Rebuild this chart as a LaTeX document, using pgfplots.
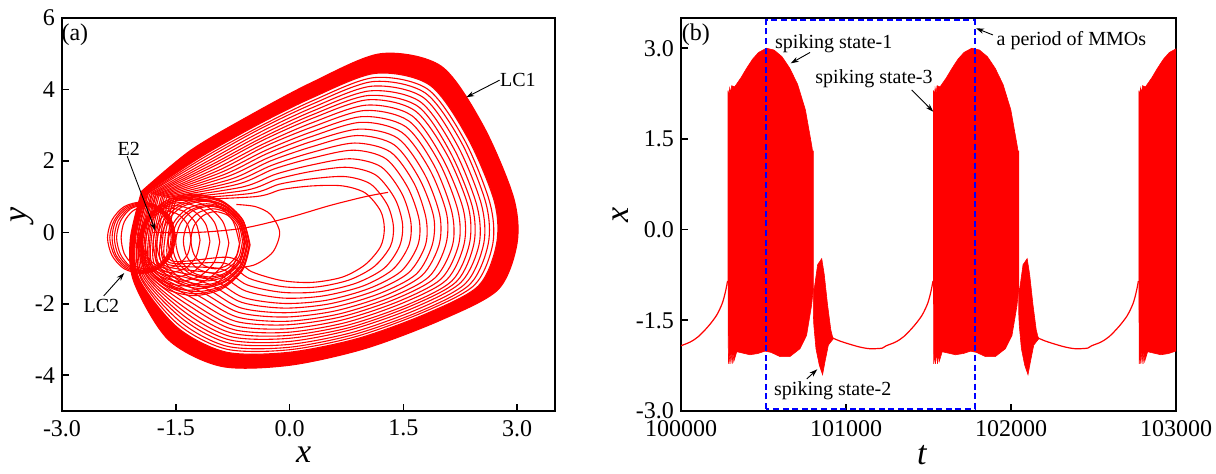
\documentclass[border=0pt]{standalone}
\usepackage{fontspec}
\setmainfont{Liberation Serif}
\usepackage{pgfplots}
\pgfplotsset{compat=1.18}
\usetikzlibrary{arrows.meta}
\tikzset{
 ann/.style={font=\fontsize{10}{12}\selectfont},
 arr/.style={-{Stealth[length=4pt,width=2.6pt]}, line width=0.45pt, black},
}
\begin{document}
\begin{tikzpicture}[font=\fontsize{12}{14}\selectfont]
\pgfplotsset{
 common/.style={
  scale only axis,
  tick align=inside,
  tick pos=left,
  major tick length=3.5pt,
  axis line style={line width=0.8pt},
  every tick/.style={black, line width=0.8pt},
  ticklabel style={font=\rmfamily\fontsize{12}{14}\selectfont},
  /pgf/number format/assume math mode=true,
  label style={font=\rmfamily\fontsize{17}{20}\selectfont},
 },
 lp/.style={red, line width=0.55pt, smooth},
}

% ---------------- (a) phase portrait ----------------
\begin{axis}[common, at={(0pt,0pt)}, anchor=south west, width=246.5pt, height=196.5pt,
 xmin=-3, xmax=3.5, ymin=-5, ymax=6,
 xtick={-3,-1.5,0,1.5,3}, ytick={-4,-2,0,2,4,6},
 xticklabel style={yshift=-1pt, /pgf/number format/.cd, fixed, fixed zerofill, precision=1},
 yticklabel style={/pgf/number format/.cd, fixed, precision=0},
 xlabel={\textit{x}}, ylabel={\textit{y}},
 xlabel style={at={(axis description cs:0.49,-0.112)}, anchor=center},
 ylabel style={at={(axis description cs:-0.081,0.5)}, anchor=center},
]
% dense outer band of LC1
\addplot[fill=red, draw=red, line width=0.55pt, smooth] coordinates {(-1.95,1.15) (-1.3,2.3) (-0.5,3.3) (0.3,4.2) (1.2,5.0) (2.0,4.65) (2.55,3.0) (2.95,1.0) (3.0,-0.3) (2.75,-1.6) (2.0,-2.45) (1.0,-3.25) (0.0,-3.72) (-0.9,-3.75) (-1.6,-3.0) (-2.05,-1.4) (-2.1,-0.2) (-1.95,1.15)};
\addplot[fill=white, draw=red, line width=0.55pt, smooth] coordinates {(-1.88,1.11) (-1.17,2.11) (-0.44,2.99) (0.30,3.77) (1.13,4.45) (1.85,4.12) (2.35,2.64) (2.70,0.87) (2.73,-0.32) (2.49,-1.50) (1.81,-2.27) (0.90,-2.97) (-0.02,-3.36) (-0.84,-3.35) (-1.48,-2.66) (-1.98,-1.31) (-2.03,-0.19) (-1.88,1.11)};
% LC1 loops
\addplot[lp] coordinates {(-1.87,1.10) (-1.15,2.07) (-0.43,2.92) (0.30,3.68) (1.11,4.33) (1.82,4.01) (2.31,2.57) (2.64,0.84) (2.68,-0.32) (2.44,-1.47) (1.77,-2.23) (0.87,-2.92) (-0.02,-3.29) (-0.83,-3.27) (-1.46,-2.59) (-1.96,-1.29) (-2.01,-0.18) (-1.87,1.10)};
\addplot[lp] coordinates {(-1.86,1.10) (-1.12,2.03) (-0.42,2.86) (0.30,3.59) (1.10,4.22) (1.79,3.90) (2.27,2.50) (2.59,0.81) (2.62,-0.32) (2.38,-1.45) (1.73,-2.20) (0.85,-2.86) (-0.02,-3.22) (-0.82,-3.19) (-1.43,-2.52) (-1.95,-1.27) (-2.00,-0.18) (-1.86,1.10)};
\addplot[lp] coordinates {(-1.84,1.09) (-1.09,1.98) (-0.40,2.79) (0.30,3.49) (1.08,4.09) (1.76,3.78) (2.22,2.41) (2.53,0.78) (2.56,-0.32) (2.32,-1.43) (1.68,-2.16) (0.83,-2.80) (-0.02,-3.14) (-0.80,-3.10) (-1.40,-2.44) (-1.93,-1.25) (-1.98,-0.18) (-1.84,1.09)};
\addplot[lp] coordinates {(-1.82,1.08) (-1.06,1.94) (-0.39,2.71) (0.30,3.39) (1.06,3.96) (1.72,3.66) (2.17,2.33) (2.47,0.75) (2.50,-0.33) (2.26,-1.40) (1.64,-2.11) (0.80,-2.73) (-0.03,-3.06) (-0.79,-3.01) (-1.38,-2.36) (-1.91,-1.23) (-1.96,-0.17) (-1.82,1.08)};
\addplot[lp] coordinates {(-1.81,1.07) (-1.03,1.89) (-0.37,2.64) (0.30,3.29) (1.04,3.83) (1.69,3.53) (2.12,2.24) (2.41,0.72) (2.43,-0.33) (2.20,-1.38) (1.59,-2.07) (0.78,-2.67) (-0.03,-2.97) (-0.77,-2.92) (-1.35,-2.28) (-1.89,-1.21) (-1.94,-0.17) (-1.81,1.07)};
\addplot[lp] coordinates {(-1.79,1.06) (-1.00,1.85) (-0.36,2.57) (0.30,3.19) (1.03,3.71) (1.65,3.41) (2.08,2.16) (2.36,0.69) (2.37,-0.34) (2.14,-1.36) (1.55,-2.03) (0.76,-2.60) (-0.04,-2.89) (-0.76,-2.82) (-1.32,-2.20) (-1.88,-1.19) (-1.93,-0.17) (-1.79,1.06)};
\addplot[lp] coordinates {(-1.77,1.05) (-0.97,1.79) (-0.34,2.48) (0.30,3.07) (1.01,3.56) (1.61,3.27) (2.02,2.06) (2.29,0.65) (2.30,-0.34) (2.07,-1.33) (1.49,-1.98) (0.73,-2.53) (-0.04,-2.80) (-0.74,-2.72) (-1.29,-2.10) (-1.86,-1.17) (-1.91,-0.16) (-1.77,1.05)};
\addplot[lp] coordinates {(-1.76,1.04) (-0.93,1.74) (-0.33,2.40) (0.30,2.95) (0.99,3.41) (1.57,3.12) (1.97,1.97) (2.22,0.61) (2.23,-0.34) (2.00,-1.30) (1.44,-1.93) (0.70,-2.45) (-0.04,-2.70) (-0.73,-2.61) (-1.26,-2.01) (-1.84,-1.14) (-1.89,-0.16) (-1.76,1.04)};
\addplot[lp] coordinates {(-1.74,1.03) (-0.90,1.68) (-0.31,2.30) (0.30,2.82) (0.96,3.24) (1.53,2.96) (1.91,1.86) (2.14,0.57) (2.15,-0.35) (1.92,-1.27) (1.38,-1.88) (0.67,-2.37) (-0.05,-2.59) (-0.71,-2.49) (-1.22,-1.91) (-1.81,-1.12) (-1.86,-0.15) (-1.74,1.03)};
\addplot[lp] coordinates {(-1.72,1.02) (-0.86,1.62) (-0.29,2.21) (0.30,2.69) (0.94,3.08) (1.48,2.80) (1.85,1.75) (2.07,0.53) (2.06,-0.35) (1.84,-1.24) (1.32,-1.83) (0.64,-2.29) (-0.05,-2.49) (-0.69,-2.37) (-1.18,-1.80) (-1.79,-1.09) (-1.84,-0.15) (-1.72,1.02)};
\addplot[lp] coordinates {(-1.69,1.01) (-0.82,1.56) (-0.27,2.10) (0.30,2.55) (0.92,2.89) (1.43,2.63) (1.78,1.63) (1.98,0.49) (1.97,-0.36) (1.75,-1.20) (1.26,-1.77) (0.60,-2.20) (-0.06,-2.37) (-0.67,-2.24) (-1.14,-1.69) (-1.77,-1.06) (-1.82,-0.14) (-1.69,1.01)};
\addplot[lp] coordinates {(-1.67,1.00) (-0.77,1.49) (-0.25,2.00) (0.30,2.40) (0.89,2.71) (1.38,2.45) (1.71,1.51) (1.90,0.44) (1.88,-0.36) (1.67,-1.17) (1.19,-1.71) (0.57,-2.10) (-0.06,-2.25) (-0.65,-2.11) (-1.10,-1.57) (-1.74,-1.03) (-1.79,-0.14) (-1.67,1.00)};
\addplot[lp] coordinates {(-1.65,0.98) (-0.73,1.42) (-0.23,1.88) (0.30,2.24) (0.86,2.50) (1.33,2.25) (1.64,1.38) (1.80,0.39) (1.79,-0.37) (1.57,-1.13) (1.12,-1.64) (0.53,-2.00) (-0.07,-2.12) (-0.63,-1.96) (-1.06,-1.45) (-1.71,-1.00) (-1.76,-0.13) (-1.65,0.98)};
\addplot[lp] coordinates {(-1.62,0.97) (-0.68,1.35) (-0.21,1.77) (0.30,2.08) (0.84,2.30) (1.27,2.06) (1.56,1.25) (1.71,0.34) (1.69,-0.37) (1.47,-1.09) (1.05,-1.57) (0.49,-1.90) (-0.07,-1.99) (-0.61,-1.82) (-1.02,-1.32) (-1.69,-0.96) (-1.74,-0.13) (-1.62,0.97)};
\addplot[lp] coordinates {(-1.59,0.95) (-0.62,1.27) (-0.18,1.63) (0.30,1.89) (0.80,2.06) (1.21,1.83) (1.48,1.09) (1.60,0.28) (1.57,-0.38) (1.36,-1.04) (0.97,-1.50) (0.44,-1.78) (-0.08,-1.84) (-0.58,-1.64) (-0.96,-1.17) (-1.65,-0.92) (-1.70,-0.12) (-1.59,0.95)};
\addplot[lp] coordinates {(-1.56,0.94) (-0.57,1.18) (-0.16,1.49) (0.30,1.71) (0.77,1.82) (1.14,1.60) (1.39,0.94) (1.49,0.23) (1.45,-0.39) (1.25,-1.00) (0.88,-1.42) (0.40,-1.66) (-0.09,-1.68) (-0.56,-1.47) (-0.91,-1.02) (-1.62,-0.88) (-1.67,-0.11) (-1.56,0.94)};
\addplot[lp] coordinates {(-1.53,0.92) (-0.51,1.09) (-0.13,1.35) (0.30,1.50) (0.74,1.56) (1.07,1.35) (1.29,0.77) (1.37,0.16) (1.33,-0.39) (1.12,-0.95) (0.79,-1.33) (0.35,-1.53) (-0.09,-1.52) (-0.53,-1.29) (-0.86,-0.86) (-1.59,-0.84) (-1.64,-0.11) (-1.53,0.92)};
\addplot[lp] coordinates {(-1.5,0.9) (-0.45,1.0) (-0.1,1.2) (0.3,1.3) (0.7,1.3) (1.0,1.1) (1.2,0.6) (1.25,0.1) (1.2,-0.4) (1.0,-0.9) (0.7,-1.25) (0.3,-1.4) (-0.1,-1.35) (-0.5,-1.1) (-0.8,-0.7) (-1.55,-0.8) (-1.6,-0.1) (-1.5,0.9)};
% single inner loop and trajectory leaving E2
\addplot[lp] coordinates {(-0.7,0.78) (-0.45,0.72) (-0.25,0.5) (-0.13,0.0) (-0.22,-0.55) (-0.45,-0.9) (-0.7,-1.0)};
\addplot[lp] coordinates {(-1.8,0.0) (-1.2,0.0) (-0.6,0.12) (0.0,0.42) (0.53,0.75) (1.0,1.0) (1.3,1.12)};
% LC2 mesh
\addplot[lp] coordinates {(-0.52,-0.35) (-0.62,0.36) (-0.89,0.88) (-1.26,1.07) (-1.63,0.88) (-1.90,0.36) (-2.0,-0.35) (-1.90,-1.06) (-1.63,-1.58) (-1.26,-1.77) (-0.89,-1.58) (-0.62,-1.06) (-0.52,-0.35)};
\addplot[lp] coordinates {(-0.53,-0.34) (-0.62,0.35) (-0.88,0.85) (-1.24,1.04) (-1.59,0.85) (-1.85,0.35) (-1.95,-0.34) (-1.85,-1.03) (-1.59,-1.53) (-1.24,-1.72) (-0.88,-1.53) (-0.62,-1.03) (-0.53,-0.34)};
\addplot[lp] coordinates {(-0.53,-0.33) (-0.62,0.34) (-0.87,0.82) (-1.22,1.00) (-1.56,0.82) (-1.81,0.34) (-1.90,-0.33) (-1.81,-1.00) (-1.56,-1.48) (-1.22,-1.66) (-0.87,-1.48) (-0.62,-1.00) (-0.53,-0.33)};
\addplot[lp] coordinates {(-0.55,-0.32) (-0.63,0.31) (-0.86,0.76) (-1.18,0.93) (-1.49,0.76) (-1.72,0.31) (-1.80,-0.32) (-1.72,-0.95) (-1.49,-1.40) (-1.18,-1.57) (-0.86,-1.40) (-0.63,-0.95) (-0.55,-0.32)};
\addplot[lp] coordinates {(-0.56,-0.31) (-0.64,0.30) (-0.85,0.74) (-1.15,0.90) (-1.45,0.74) (-1.67,0.30) (-1.75,-0.31) (-1.67,-0.92) (-1.45,-1.36) (-1.15,-1.52) (-0.85,-1.36) (-0.64,-0.92) (-0.56,-0.31)};
\addplot[lp] coordinates {(-0.56,-0.30) (-0.64,0.29) (-0.85,0.71) (-1.13,0.87) (-1.42,0.71) (-1.62,0.29) (-1.70,-0.30) (-1.62,-0.89) (-1.42,-1.31) (-1.13,-1.47) (-0.85,-1.31) (-0.64,-0.89) (-0.56,-0.30)};
\addplot[lp] coordinates {(-0.58,-0.28) (-0.65,0.26) (-0.84,0.66) (-1.09,0.80) (-1.35,0.66) (-1.53,0.26) (-1.60,-0.28) (-1.53,-0.82) (-1.35,-1.22) (-1.09,-1.36) (-0.84,-1.22) (-0.65,-0.82) (-0.58,-0.28)};
\addplot[lp] coordinates {(-0.59,-0.27) (-0.65,0.25) (-0.83,0.62) (-1.07,0.76) (-1.31,0.62) (-1.49,0.25) (-1.55,-0.27) (-1.49,-0.79) (-1.31,-1.16) (-1.07,-1.30) (-0.83,-1.16) (-0.65,-0.79) (-0.59,-0.27)};
\addplot[lp] coordinates {(-0.60,-0.26) (-0.66,0.24) (-0.83,0.60) (-1.05,0.73) (-1.28,0.60) (-1.44,0.24) (-1.50,-0.26) (-1.44,-0.76) (-1.28,-1.12) (-1.05,-1.25) (-0.83,-1.12) (-0.66,-0.76) (-0.60,-0.26)};
\addplot[lp] coordinates {(-0.62,-0.24) (-0.67,0.21) (-0.82,0.54) (-1.01,0.66) (-1.21,0.54) (-1.35,0.21) (-1.40,-0.24) (-1.35,-0.69) (-1.21,-1.02) (-1.01,-1.14) (-0.82,-1.02) (-0.67,-0.69) (-0.62,-0.24)};
\addplot[lp] coordinates {(-0.65,-0.22) (-0.69,0.18) (-0.81,0.47) (-0.98,0.58) (-1.14,0.47) (-1.26,0.18) (-1.30,-0.22) (-1.26,-0.62) (-1.14,-0.91) (-0.98,-1.02) (-0.81,-0.91) (-0.69,-0.62) (-0.65,-0.22)};
\addplot[lp] coordinates {(-0.66,-0.32) (-0.75,0.33) (-0.99,0.81) (-1.33,0.98) (-1.66,0.81) (-1.90,0.33) (-1.99,-0.32) (-1.90,-0.97) (-1.66,-1.45) (-1.33,-1.62) (-0.99,-1.45) (-0.75,-0.97) (-0.66,-0.32)};
\addplot[lp] coordinates {(-0.80,-0.30) (-0.88,0.30) (-1.10,0.74) (-1.39,0.90) (-1.69,0.74) (-1.90,0.30) (-1.98,-0.30) (-1.90,-0.90) (-1.69,-1.34) (-1.39,-1.50) (-1.10,-1.34) (-0.88,-0.90) (-0.80,-0.30)};
\addplot[lp] coordinates {(-0.92,-0.27) (-0.99,0.28) (-1.18,0.68) (-1.45,0.83) (-1.71,0.68) (-1.90,0.28) (-1.97,-0.27) (-1.90,-0.82) (-1.71,-1.22) (-1.45,-1.37) (-1.18,-1.22) (-0.99,-0.82) (-0.92,-0.27)};
\addplot[lp] coordinates {(-1.05,-0.25) (-1.11,0.25) (-1.28,0.62) (-1.51,0.75) (-1.73,0.62) (-1.90,0.25) (-1.96,-0.25) (-1.90,-0.75) (-1.73,-1.12) (-1.51,-1.25) (-1.28,-1.12) (-1.11,-0.75) (-1.05,-0.25)};
\addplot[lp] coordinates {(-1.18,-0.22) (-1.23,0.23) (-1.37,0.56) (-1.57,0.68) (-1.76,0.56) (-1.90,0.23) (-1.95,-0.22) (-1.90,-0.67) (-1.76,-1.00) (-1.57,-1.12) (-1.37,-1.00) (-1.23,-0.67) (-1.18,-0.22)};
\addplot[lp] coordinates {(-1.30,-0.20) (-1.34,0.20) (-1.46,0.49) (-1.62,0.60) (-1.78,0.49) (-1.90,0.20) (-1.94,-0.20) (-1.90,-0.60) (-1.78,-0.89) (-1.62,-1.00) (-1.46,-0.89) (-1.34,-0.60) (-1.30,-0.20)};
% LC2 left lobe
\addplot[lp] coordinates {(-1.50,-0.15) (-1.56,0.35) (-1.73,0.72) (-1.95,0.85) (-2.18,0.72) (-2.34,0.35) (-2.40,-0.15) (-2.34,-0.65) (-2.18,-1.02) (-1.95,-1.15) (-1.73,-1.02) (-1.56,-0.65) (-1.50,-0.15)};
\addplot[lp] coordinates {(-1.51,-0.15) (-1.57,0.34) (-1.73,0.70) (-1.94,0.83) (-2.16,0.70) (-2.31,0.34) (-2.37,-0.15) (-2.31,-0.64) (-2.16,-1.00) (-1.94,-1.13) (-1.73,-1.00) (-1.57,-0.64) (-1.51,-0.15)};
\addplot[lp] coordinates {(-1.52,-0.15) (-1.58,0.33) (-1.73,0.68) (-1.93,0.81) (-2.14,0.68) (-2.29,0.33) (-2.34,-0.15) (-2.29,-0.63) (-2.14,-0.98) (-1.93,-1.11) (-1.73,-0.98) (-1.58,-0.63) (-1.52,-0.15)};
\addplot[lp] coordinates {(-1.53,-0.15) (-1.58,0.32) (-1.73,0.66) (-1.92,0.79) (-2.12,0.66) (-2.26,0.32) (-2.31,-0.15) (-2.26,-0.62) (-2.12,-0.96) (-1.92,-1.09) (-1.73,-0.96) (-1.58,-0.62) (-1.53,-0.15)};
\addplot[lp] coordinates {(-1.54,-0.15) (-1.59,0.31) (-1.73,0.65) (-1.91,0.77) (-2.10,0.65) (-2.23,0.31) (-2.28,-0.15) (-2.23,-0.61) (-2.10,-0.95) (-1.91,-1.07) (-1.73,-0.95) (-1.59,-0.61) (-1.54,-0.15)};
\addplot[lp] coordinates {(-1.56,-0.15) (-1.60,0.29) (-1.73,0.61) (-1.89,0.73) (-2.06,0.61) (-2.18,0.29) (-2.22,-0.15) (-2.18,-0.59) (-2.06,-0.91) (-1.89,-1.03) (-1.73,-0.91) (-1.60,-0.59) (-1.56,-0.15)};
% annotations
\node[font=\fontsize{12}{14}\selectfont] at (axis cs:-2.83,5.52) {(a)};
\node[ann] at (axis cs:-2.12,2.35) {E2};
\draw[arr] (axis cs:-2.14,2.13) -- (axis cs:-1.77,0.05);
\node[ann] at (axis cs:-2.48,-2.07) {LC2};
\draw[arr] (axis cs:-2.45,-1.78) -- (axis cs:-2.18,-1.14);
\node[ann] at (axis cs:3.01,4.26) {LC1};
\draw[arr] (axis cs:2.77,4.26) -- (axis cs:2.33,3.78);
\end{axis}

% ---------------- (b) time series ----------------
\begin{axis}[common, at={(309.5pt,0pt)}, anchor=south west, width=247.5pt, height=196.5pt,
 xmin=100000, xmax=103000, ymin=-3, ymax=3.5,
 xtick={100000,101000,102000,103000}, ytick={-3,-1.5,0,1.5,3},
 scaled x ticks=false,
 xticklabel style={yshift=-1pt, /pgf/number format/.cd, fixed, 1000 sep={}},
 yticklabel style={/pgf/number format/.cd, fixed, fixed zerofill, precision=1},
 xlabel={\textit{t}}, ylabel={\textit{x}},
 xlabel style={at={(axis description cs:0.487,-0.112)}, anchor=center},
 ylabel style={at={(axis description cs:-0.121,0.5)}, anchor=center},
]
% quiescent segments
\addplot[red, line width=0.6pt, smooth] coordinates {(100000,-1.92) (100055,-1.86) (100105,-1.77) (100165,-1.60) (100215,-1.42) (100250,-1.22) (100270,-1.02) (100282,-0.85)};
\addplot[red, line width=0.6pt, smooth] coordinates {(100925,-1.80) (100960,-1.84) (101004,-1.88) (101080,-1.94) (101145,-1.97) (101220,-1.96) (101245,-1.92) (101300,-1.86) (101350,-1.77) (101410,-1.60) (101460,-1.42) (101495,-1.22) (101515,-1.02) (101527,-0.85)};
\addplot[red, line width=0.6pt, smooth] coordinates {(102170,-1.80) (102205,-1.84) (102249,-1.88) (102325,-1.94) (102390,-1.97) (102465,-1.96) (102490,-1.92) (102545,-1.86) (102595,-1.77) (102655,-1.60) (102705,-1.42) (102740,-1.22) (102760,-1.02) (102772,-0.85)};
% spiking bursts (envelopes)
\addplot[fill=red, draw=red, line width=0.3pt] coordinates {(100285,2.30) (100291,2.22) (100295,2.34) (100301,2.26) (100307,2.38) (100325,2.36) (100363,2.51) (100398,2.67) (100434,2.82) (100470,2.93) (100517,3.00) (100564,2.97) (100612,2.86) (100659,2.67) (100707,2.40) (100754,1.98) (100793,1.38) (100797,1.30) (100802,1.30) (100802,-0.98) (100791,-1.26) (100761,-1.75) (100721,-1.97) (100660,-2.10) (100600,-2.10) (100545,-2.03) (100509,-2.01) (100465,-2.05) (100418,-2.07) (100338,-2.02) (100320,-2.18) (100315,-2.02) (100310,-2.22) (100303,-2.02) (100297,-2.22) (100291,-2.05) (100287,-2.22) (100285,-0.85) (100285,2.30)};
\addplot[fill=red, draw=red, line width=0.3pt] coordinates {(101530,2.30) (101536,2.22) (101540,2.34) (101546,2.26) (101552,2.38) (101570,2.36) (101608,2.51) (101643,2.67) (101679,2.82) (101715,2.93) (101762,3.00) (101809,2.97) (101857,2.86) (101904,2.67) (101952,2.40) (101999,1.98) (102038,1.38) (102042,1.30) (102047,1.30) (102047,-0.98) (102036,-1.26) (102006,-1.75) (101966,-1.97) (101905,-2.10) (101845,-2.10) (101790,-2.03) (101754,-2.01) (101710,-2.05) (101663,-2.07) (101583,-2.02) (101565,-2.18) (101560,-2.02) (101555,-2.22) (101548,-2.02) (101542,-2.22) (101536,-2.05) (101532,-2.22) (101530,-0.85) (101530,2.30)};
\addplot[fill=red, draw=red, line width=0.3pt] coordinates {(102775,2.30) (102781,2.22) (102785,2.34) (102791,2.26) (102797,2.38) (102815,2.36) (102853,2.51) (102888,2.67) (102924,2.82) (102960,2.93) (103007,3.00) (103054,2.97) (103054,-2.03) (102999,-2.01) (102955,-2.05) (102908,-2.07) (102828,-2.02) (102810,-2.18) (102805,-2.02) (102800,-2.22) (102793,-2.02) (102787,-2.22) (102781,-2.05) (102777,-2.22) (102775,-0.85) (102775,2.30)};
% small spindles (spiking state-2)
\addplot[fill=red, draw=red, line width=0.3pt] coordinates {(100802,-0.98) (100808,-0.97) (100828,-0.58) (100853,-0.48) (100868,-0.74) (100888,-1.24) (100908,-1.66) (100918,-1.77) (100925,-1.80) (100913,-1.84) (100893,-1.91) (100873,-2.18) (100858,-2.40) (100838,-2.24) (100818,-1.97) (100805,-1.58) (100802,-1.4) (100802,-0.98)};
\addplot[fill=red, draw=red, line width=0.3pt] coordinates {(102047,-0.98) (102053,-0.97) (102073,-0.58) (102098,-0.48) (102113,-0.74) (102133,-1.24) (102153,-1.66) (102163,-1.77) (102170,-1.80) (102158,-1.84) (102138,-1.91) (102118,-2.18) (102103,-2.40) (102083,-2.24) (102063,-1.97) (102050,-1.58) (102047,-1.4) (102047,-0.98)};
% one period box
\addplot[blue, line width=1pt, dash pattern=on 3pt off 1.8pt] coordinates {(100517,-2.965) (100517,3.46) (101779,3.46) (101779,-2.965) (100517,-2.965)};
% annotations
\node[font=\fontsize{12}{14}\selectfont] at (axis cs:100090,3.22) {(b)};
\node[ann] at (axis cs:100926,3.08) {spiking state-1};
\draw[arr] (axis cs:100782,2.93) -- (axis cs:100665,2.75);
\node[ann] at (axis cs:101170,2.49) {spiking state-3};
\draw[arr] (axis cs:101398,2.31) -- (axis cs:101529,1.95);
\node[ann] at (axis cs:102366,3.13) {a period of MMOs};
\draw[arr] (axis cs:101890,3.22) -- (axis cs:101788,3.33);
\node[ann] at (axis cs:100920,-2.66) {spiking state-2};
\draw[arr] (axis cs:100762,-2.47) -- (axis cs:100826,-2.31);
\end{axis}
\pgfresetboundingbox
\path[use as bounding box] (-31pt,-31.5pt) rectangle (577pt,205.5pt);
\end{tikzpicture}
\end{document}
